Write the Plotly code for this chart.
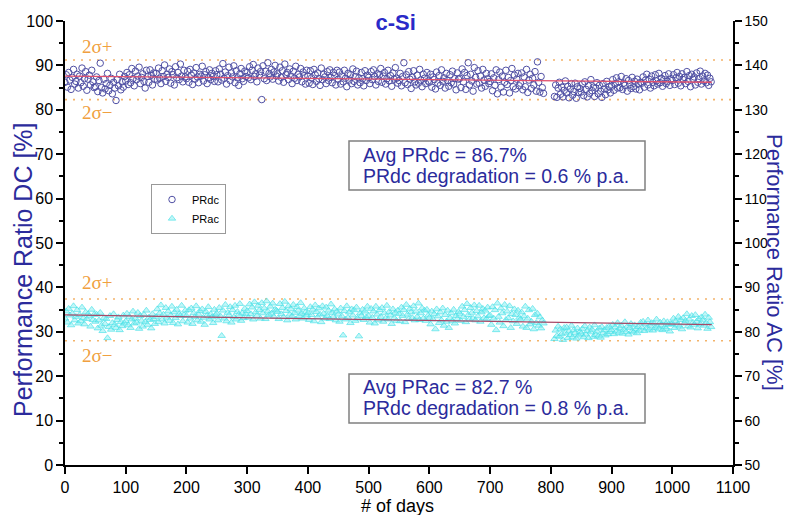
import plotly.graph_objects as go

# ---------------- data ----------------
days = list(range(0, 790, 2)) + list(range(806, 1066, 2))

pr_dc = [
    86.2, 87.9, 85.1, 88.4, 86.7, 84.6, 87.3, 89.1, 85.8, 86.4, 88.0, 84.9, 87.6, 86.1, 89.4, 85.3, 87.0, 88.6, 84.4, 86.9, 87.8, 85.6, 88.9, 86.3, 85.0,
    85.2, 87.4, 84.1, 86.6, 90.5, 85.0, 83.8, 86.9, 84.7, 85.9, 88.2, 84.3, 85.5, 87.1, 83.6, 86.2, 84.9, 82.1, 86.8, 85.4, 88.0, 84.5, 86.3, 85.1, 87.5,
    86.5, 88.4, 85.7, 87.9, 86.1, 89.3, 87.0, 85.4, 88.7, 86.8, 87.6, 89.6, 85.9, 87.3, 88.1, 86.4, 84.9, 88.9, 87.5, 86.2, 89.0, 87.8, 85.6, 88.3, 86.9,
    88.2, 86.7, 89.4, 87.1, 85.9, 88.8, 87.5, 90.1, 86.4, 88.0, 87.3, 89.2, 86.0, 88.6, 87.9, 85.6, 89.7, 87.2, 88.4, 86.8, 90.3, 87.6, 86.3, 88.9, 87.4,
    87.0, 88.7, 86.2, 89.1, 87.8, 85.7, 88.3, 86.9, 89.5, 87.4, 86.1, 88.0, 87.6, 89.8, 86.5, 87.9, 88.6, 85.9, 87.2, 89.0, 86.8, 88.2, 87.5, 86.4, 88.8,
    87.9, 86.3, 89.2, 88.0, 86.7, 90.4, 87.1, 88.5, 85.8, 87.7, 89.6, 86.6, 88.3, 87.4, 89.9, 86.1, 88.8, 87.2, 85.5, 88.1, 89.3, 87.0, 86.4, 88.7, 87.5,
    88.4, 87.2, 89.7, 86.8, 88.9, 90.2, 87.5, 88.1, 86.3, 89.4, 87.8, 88.6, 82.3, 89.9, 87.0, 88.7, 86.6, 90.6, 88.2, 87.4, 89.1, 86.9, 88.5, 90.0, 87.6,
    88.1, 86.5, 89.6, 87.3, 88.8, 86.2, 90.3, 87.9, 88.4, 86.8, 89.2, 87.6, 85.9, 88.7, 87.1, 89.8, 86.6, 88.0, 87.4, 89.3, 86.3, 88.5, 87.7, 85.8, 88.9,
    87.6, 86.0, 88.8, 87.2, 85.7, 89.1, 87.9, 86.4, 88.3, 87.0, 85.5, 89.4, 86.8, 88.0, 87.4, 85.9, 88.6, 86.6, 89.0, 87.3, 86.1, 88.4, 87.7, 85.6, 88.9,
    86.9, 88.5, 85.8, 87.6, 86.3, 88.9, 87.1, 85.2, 88.2, 86.7, 87.9, 85.9, 89.2, 86.4, 87.5, 88.7, 85.6, 87.2, 86.1, 88.4, 87.0, 85.4, 88.8, 86.6, 87.8,
    87.3, 85.9, 88.6, 86.8, 89.0, 87.5, 85.6, 88.1, 86.4, 87.9, 89.3, 86.2, 87.6, 88.4, 85.8, 87.0, 88.9, 86.5, 87.7, 85.3, 88.3, 86.9, 89.5, 87.1, 86.0,
    86.6, 88.2, 85.4, 87.5, 90.6, 86.1, 87.9, 85.7, 88.6, 86.9, 84.8, 87.3, 88.8, 86.3, 85.6, 87.8, 86.0, 89.1, 86.7, 85.2, 88.0, 87.1, 85.9, 88.4, 86.5,
    86.2, 88.0, 85.1, 87.4, 86.8, 84.7, 88.5, 86.0, 87.7, 85.5, 89.0, 86.4, 87.2, 84.9, 88.2, 86.6, 85.3, 87.9, 86.1, 88.7, 85.8, 87.0, 84.5, 88.3, 86.9,
    87.1, 85.0, 89.2, 86.3, 88.4, 84.6, 87.7, 90.6, 85.6, 88.0, 86.5, 84.2, 89.5, 87.3, 85.8, 88.8, 86.0, 87.6, 84.9, 89.1, 86.7, 85.3, 88.2, 87.0, 85.9,
    86.4, 88.1, 84.3, 87.2, 85.5, 89.0, 83.6, 86.8, 88.5, 85.1, 87.6, 84.0, 86.2, 88.9, 85.7, 87.3, 83.8, 86.6, 89.3, 85.2, 87.8, 84.7, 86.9, 88.2, 85.4,
    86.0, 88.3, 84.5, 87.4, 85.2, 89.1, 83.9, 86.7, 88.0, 84.8, 87.1, 85.6, 88.6, 84.2, 90.8, 86.2, 84.0, 87.5, 85.0, 83.7,
    83.0, 85.6, 82.8, 84.9, 86.2, 83.5, 85.1, 82.9, 84.4, 86.5, 83.8, 85.3, 82.7, 84.7, 85.9, 83.3, 84.1, 86.0, 82.6, 85.2, 83.9, 84.8,
    84.0, 85.8, 83.2, 86.3, 84.6, 82.9, 85.4, 83.7, 86.8, 84.3, 85.1, 83.0, 84.9, 86.1, 83.6, 85.5, 84.2, 82.8, 85.9, 84.7, 83.4, 86.4, 84.5, 85.2, 83.8,
    85.3, 86.8, 84.4, 85.9, 87.2, 84.9, 86.3, 85.0, 87.5, 84.6, 86.0, 85.5, 87.0, 84.2, 86.6, 85.7, 84.8, 87.3, 85.2, 86.4, 84.7, 86.9, 85.8, 84.5, 86.2,
    86.0, 87.4, 85.1, 86.7, 88.0, 85.6, 86.9, 84.9, 87.6, 86.2, 85.4, 87.9, 86.5, 85.8, 88.2, 86.1, 87.1, 85.3, 86.8, 87.7, 85.9, 86.4, 88.1, 85.5, 87.0,
    86.6, 87.9, 85.7, 87.2, 88.4, 86.0, 87.5, 85.4, 88.1, 86.8, 87.3, 85.9, 88.6, 86.4, 87.7, 85.2, 88.0, 86.9, 87.4, 85.6, 88.3, 86.2, 87.0, 88.7, 85.8,
    87.6, 86.5, 88.2, 86.1, 87.8, 85.5, 87.1, 86.3,
]

pr_ac = [
    83.0, 84.6, 82.1, 85.2, 83.7, 81.5, 84.1, 85.8, 82.6, 83.4, 84.9, 81.9, 83.8, 82.4, 85.5, 83.1, 81.7, 84.4, 82.9, 84.0, 83.5, 81.2, 85.0, 82.7, 83.9,
    82.3, 83.9, 80.8, 82.6, 84.3, 81.4, 80.2, 83.1, 81.8, 82.9, 78.6, 81.1, 83.6, 80.5, 82.0, 84.0, 81.6, 80.9, 82.7, 83.3, 80.4, 82.2, 81.3, 83.7, 81.9,
    82.4, 84.1, 81.5, 83.3, 80.9, 82.8, 84.6, 81.9, 83.0, 82.1, 84.3, 80.7, 83.6, 82.5, 81.2, 83.9, 82.2, 84.8, 81.6, 83.2, 82.7, 80.8, 84.0, 82.9, 81.8,
    83.4, 85.1, 82.2, 84.2, 86.0, 82.8, 83.9, 81.9, 85.4, 83.2, 84.6, 82.5, 83.7, 85.7, 82.0, 84.4, 83.1, 85.0, 81.7, 84.0, 83.6, 85.9, 82.4, 83.8, 84.8,
    83.6, 82.1, 84.9, 83.0, 85.3, 81.8, 84.2, 83.4, 85.8, 82.6, 83.9, 84.7, 82.3, 85.1, 83.2, 81.6, 84.5, 83.7, 85.6, 82.8, 84.0, 83.3, 82.0, 85.0, 83.8,
    84.1, 82.6, 85.4, 83.5, 79.1, 84.8, 83.0, 86.1, 82.4, 84.3, 83.7, 85.6, 82.1, 84.9, 83.3, 85.9, 82.8, 84.5, 83.9, 86.3, 82.5, 84.2, 83.1, 85.2, 84.0,
    84.7, 83.2, 86.2, 84.0, 85.5, 82.8, 86.7, 84.4, 83.6, 85.9, 84.9, 83.0, 86.5, 84.2, 85.3, 82.9, 86.9, 84.6, 83.8, 85.7, 84.1, 86.4, 83.4, 85.0, 84.8,
    84.5, 82.9, 86.3, 84.0, 85.4, 83.3, 86.8, 84.7, 82.6, 85.8, 83.9, 85.1, 83.5, 86.1, 84.3, 82.8, 85.6, 84.8, 83.6, 86.5, 84.1, 83.0, 85.3, 84.4, 83.7,
    84.2, 82.7, 85.6, 83.8, 85.0, 82.4, 86.0, 84.5, 83.3, 85.3, 83.9, 82.2, 85.8, 84.1, 83.0, 85.5, 83.6, 84.8, 82.9, 86.2, 84.3, 83.4, 85.1, 82.6, 84.6,
    83.9, 82.3, 85.3, 83.5, 79.2, 84.7, 82.8, 85.8, 83.2, 84.4, 82.0, 85.1, 83.7, 84.9, 82.5, 85.5, 83.0, 79.0, 84.2, 83.6, 85.0, 82.7, 84.6, 83.3, 85.7,
    83.6, 82.1, 85.2, 83.2, 84.6, 81.9, 85.7, 83.9, 82.6, 84.9, 83.4, 85.4, 82.3, 84.2, 83.0, 85.9, 82.8, 84.5, 83.7, 81.8, 85.1, 83.1, 84.3, 82.5, 84.8,
    84.0, 82.4, 85.5, 83.6, 84.9, 82.2, 86.1, 83.9, 82.9, 85.2, 84.4, 83.1, 85.8, 82.6, 84.6, 83.4, 86.4, 82.7, 84.2, 85.3, 83.0, 84.8, 82.5, 85.0, 83.7,
    83.2, 81.7, 84.6, 82.8, 84.0, 80.6, 85.1, 83.5, 82.0, 84.4, 82.6, 85.3, 81.4, 83.8, 82.3, 84.8, 80.9, 83.1, 84.2, 82.4, 85.0, 81.9, 83.6, 82.9, 84.5,
    84.1, 82.5, 85.7, 83.4, 84.9, 82.2, 86.3, 83.8, 82.8, 85.4, 84.3, 83.0, 86.0, 82.6, 84.7, 83.5, 85.9, 82.3, 84.4, 85.2, 83.1, 84.8, 82.9, 85.5, 83.6,
    83.7, 81.6, 85.6, 83.0, 84.9, 80.4, 86.4, 83.4, 82.1, 85.3, 84.2, 81.3, 86.1, 82.7, 84.6, 83.1, 85.8, 80.9, 84.0, 82.4, 85.1, 83.8, 81.8, 84.8, 83.2,
    82.8, 84.4, 81.2, 83.5, 85.7, 80.9, 83.0, 84.9, 81.7, 82.3, 85.2, 80.6, 83.8, 82.0, 84.1, 81.4, 83.3, 80.8, 82.6, 81.9,
    78.4, 80.3, 79.1, 81.2, 78.9, 80.6, 79.5, 78.2, 80.9, 79.8, 81.0, 78.6, 80.1, 79.3, 81.4, 78.8, 80.4, 79.7, 78.5, 80.8, 79.2, 80.0,
    79.6, 80.7, 78.8, 81.3, 79.4, 80.2, 78.6, 81.0, 79.9, 80.5, 78.9, 81.5, 79.3, 80.1, 79.0, 80.8, 78.7, 81.1, 79.7, 80.4, 79.2, 80.9, 79.5, 81.2, 80.0,
    80.4, 81.6, 79.5, 81.0, 80.1, 82.0, 79.8, 80.8, 81.4, 79.6, 80.5, 82.2, 80.0, 81.2, 79.4, 80.9, 81.8, 80.2, 79.9, 81.5, 80.6, 79.7, 81.1, 80.3, 82.1,
    81.0, 82.3, 80.2, 81.7, 80.8, 82.6, 80.5, 81.4, 82.0, 80.3, 81.9, 80.9, 82.8, 81.2, 80.6, 82.1, 81.5, 80.4, 82.4, 81.1, 80.7, 82.2, 81.6, 80.1, 81.8,
    81.8, 83.0, 80.9, 82.4, 81.5, 83.4, 81.2, 82.7, 80.6, 83.1, 81.9, 82.5, 84.0, 81.3, 82.8, 81.0, 83.6, 82.1, 81.6, 83.8, 82.3, 80.8, 82.9, 81.7, 83.3,
    82.6, 81.4, 83.9, 82.0, 80.7, 83.2, 82.2, 81.1,
]

# trend lines (start / end) and 2-sigma bands
trend_days = [0, 1065]
dc_trend = [87.6, 86.2]
ac_trend = [83.8, 81.6]
band_days = [0, 1100]
dc_band = [91.2, 82.3]
ac_band = [87.4, 78.0]

dc_lines = ["Avg PRdc = 86.7%", "PRdc degradation = 0.6 % p.a."]
ac_lines = ["Avg PRac = 82.7 %", "PRdc degradation = 0.8 % p.a."]

FONT = "Arial, 'Liberation Sans', sans-serif"
NAVY = "#2b2b9c"
ORANGE = "#f0a040"

# pixel helpers for layout (plot area: x 65..733, y 21..465)
def px_x(p):
    return (p - 65) / 668.0

def px_y(p):
    return (465 - p) / 444.0

fig = go.Figure()

# bands
for v in dc_band:
    fig.add_trace(go.Scatter(x=band_days, y=[v, v], mode="lines", showlegend=False,
                             line=dict(color="#f3b36a", width=1.6, dash="2px,6px"), hoverinfo="skip"))
for v in ac_band:
    fig.add_trace(go.Scatter(x=band_days, y=[v, v], mode="lines", showlegend=False, yaxis="y2",
                             line=dict(color="#f3b36a", width=1.6, dash="2px,6px"), hoverinfo="skip"))

fig.add_trace(go.Scatter(
    x=days, y=pr_dc, mode="markers", name="PRdc",
    marker=dict(symbol="circle-open", size=6.5, color="#5050a4", line=dict(width=1)),
))
fig.add_trace(go.Scatter(
    x=days, y=pr_ac, mode="markers", name="PRac", yaxis="y2",
    marker=dict(symbol="triangle-up", size=6.5, color="rgba(130,238,242,0.5)",
                line=dict(width=0.8, color="rgba(70,224,230,0.8)")),
))

fig.add_trace(go.Scatter(x=trend_days, y=dc_trend, mode="lines", showlegend=False,
                         line=dict(color="#e0506e", width=1.3), hoverinfo="skip"))
fig.add_trace(go.Scatter(x=trend_days, y=ac_trend, mode="lines", showlegend=False, yaxis="y2",
                         line=dict(color="#a84a68", width=1.3), hoverinfo="skip"))

axis_common = dict(showline=True, linecolor="black", linewidth=1.5, showgrid=False, zeroline=False,
                   ticks="outside", ticklen=7, tickwidth=1.5, tickcolor="black", automargin=False)

annotations = [
    dict(text="Performance Ratio DC [%]", xref="paper", yref="paper", x=px_x(23), y=px_y(270),
         textangle=-90, showarrow=False, font=dict(family=FONT, size=25, color=NAVY),
         xanchor="center", yanchor="middle"),
    dict(text="Performance Ratio AC [%]", xref="paper", yref="paper", x=px_x(775), y=px_y(262),
         textangle=90, showarrow=False, font=dict(family=FONT, size=22, color=NAVY),
         xanchor="center", yanchor="middle"),
    dict(text="# of days", xref="paper", yref="paper", x=px_x(397), y=px_y(506),
         xanchor="center", yanchor="middle", showarrow=False,
         font=dict(family=FONT, size=18, color="black")),
]
shapes = []
for lines, top, bot, ys in [(dc_lines, 141, 190, (155, 176)), (ac_lines, 374, 423, (387, 408))]:
    shapes.append(dict(type="rect", xref="paper", yref="paper", x0=px_x(349), x1=px_x(645),
                       y0=px_y(bot), y1=px_y(top), line=dict(color="#808080", width=1.5),
                       fillcolor="rgba(0,0,0,0)"))
    for t, yy in zip(lines, ys):
        annotations.append(dict(text=t, xref="paper", yref="paper", x=px_x(361), y=px_y(yy),
                                xanchor="left", yanchor="middle", showarrow=False,
                                font=dict(family=FONT, size=19.5, color=NAVY)))

for txt, yv, ax in [("2σ+", 94.3, "y"), ("2σ−", 79.4, "y"), ("2σ+", 91.0, "y2"), ("2σ−", 74.6, "y2")]:
    annotations.append(dict(text=txt, xref="x", yref=ax, x=24, y=yv, xanchor="left", yanchor="middle",
                            showarrow=False, font=dict(family="'Liberation Serif', serif", size=19, color=ORANGE)))

fig.update_layout(
    width=788, height=515,
    margin=dict(l=65, r=55, t=21, b=50),
    paper_bgcolor="white", plot_bgcolor="white",
    font=dict(family=FONT),
    title=dict(text="<b>c-Si</b>", x=0.502, xanchor="center", y=0.957, yref="container", yanchor="middle",
               font=dict(family=FONT, size=22, color="#2a2ac8")),
    xaxis=dict(range=[0, 1100], dtick=100,
               tickfont=dict(family=FONT, size=16, color="black"), **axis_common),
    yaxis=dict(range=[0, 100], dtick=10, minor=dict(dtick=5, ticks="outside", ticklen=4, tickcolor="black"),
               tickfont=dict(family=FONT, size=16, color="black"), **axis_common),
    yaxis2=dict(range=[50, 150], dtick=10, overlaying="y", side="right",
                minor=dict(dtick=5, ticks="outside", ticklen=4, tickcolor="black"),
                tickfont=dict(family=FONT, size=14, color="black"), **axis_common),
    legend=dict(x=px_x(151), y=px_y(184), xanchor="left", yanchor="top", bordercolor="#999999", borderwidth=1,
                font=dict(family=FONT, size=11, color="black"), bgcolor="white",
                itemwidth=30, tracegroupgap=0),
    annotations=annotations,
    shapes=shapes,
    showlegend=True,
)

fig.write_html("out.html", config={"displayModeBar": False},
               post_script="document.body.style.margin='0px';")
